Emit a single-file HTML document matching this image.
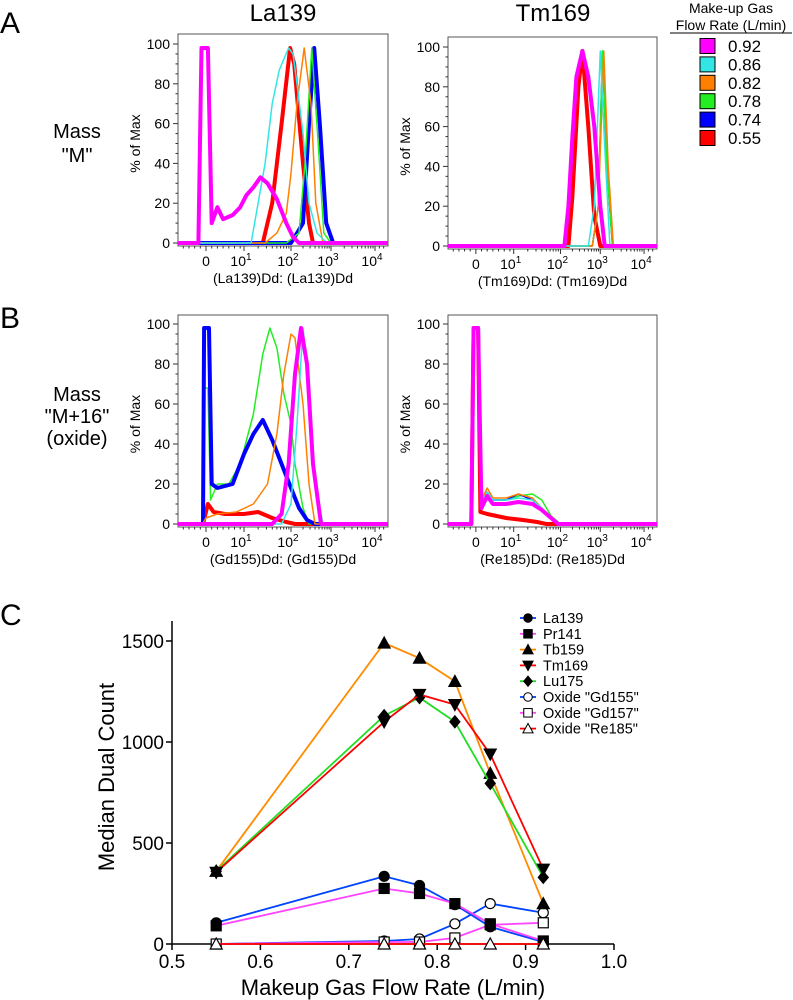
<!DOCTYPE html>
<html><head><meta charset="utf-8"><style>
html,body{margin:0;padding:0;background:#fff;}
svg{display:block;font-family:"Liberation Sans",Arial,sans-serif;}
</style></head><body>
<svg id="fig" width="793" height="1000" viewBox="0 0 793 1000" xmlns="http://www.w3.org/2000/svg">
<text x="0" y="33" font-size="30">A</text>
<text x="0" y="328" font-size="30">B</text>
<text x="0" y="625" font-size="30">C</text>
<text x="77" y="138" font-size="20" text-anchor="middle">Mass</text>
<text x="77" y="162" font-size="20" text-anchor="middle">"M"</text>
<text x="77" y="401" font-size="20" text-anchor="middle">Mass</text>
<text x="77" y="423" font-size="20" text-anchor="middle">"M+16"</text>
<text x="77" y="445" font-size="20" text-anchor="middle">(oxide)</text>
<text x="283" y="21" font-size="24" text-anchor="middle">La139</text>
<text x="553" y="21" font-size="24" text-anchor="middle">Tm169</text>
<g id="flowLegend">
<text x="731" y="13" font-size="14" text-anchor="middle">Make-up Gas</text>
<text x="731" y="30" font-size="14" text-anchor="middle">Flow Rate (L/min)</text>
<line x1="670" y1="33" x2="792" y2="33" stroke="#000" stroke-width="1"/>
</g>
<g id="hists"></g>
<g id="chartC"></g>
</svg>
<script>
const NS="http://www.w3.org/2000/svg";
function mk(tag,attrs,parent){const e=document.createElementNS(NS,tag);for(const k in attrs)e.setAttribute(k,attrs[k]);parent.appendChild(e);return e;}

// ---- flow-rate legend data ----
const flowRates=["0.92","0.86","0.82","0.78","0.74","0.55"];
const flowColors=["#ff00ff","#33e6e6","#ff8000","#22ee22","#0000ff","#ff0000"];
const flowLeg=document.getElementById('flowLegend');
flowRates.forEach((r,i)=>{
  const cy=46+i*18.4;
  const sw=mk('rect',{x:700,y:cy-7.5,width:15,height:15,fill:flowColors[i],stroke:'#000','stroke-width':1},flowLeg);
  
  
  const t=mk('text',{x:728,y:cy+6,'font-size':17},flowLeg);t.textContent=r;
  
  
});

// ---- histogram data (x in decade units: 0 -> "0", 1 -> 10^1, ...; y in % of max) ----
const aLa_092=[[-0.2,0],[-0.12,98],[0.05,98],[0.15,10],[0.3,18],[0.45,12],[0.7,14],[0.9,18],[1.05,24],[1.2,28],[1.35,33],[1.5,30],[1.7,22],[1.9,10],[2.05,3],[2.2,0]];
const aLa_086=[[1.15,0],[1.3,20],[1.45,40],[1.6,70],[1.75,87],[1.95,98],[2.05,95],[2.15,80],[2.3,55],[2.45,20],[2.65,5],[2.9,0]];
const aLa_082=[[1.45,0],[1.7,5],[1.9,15],[2.0,35],[2.15,70],[2.33,98],[2.5,70],[2.62,20],[2.8,0]];
const aLa_078=[[1.9,0],[2.2,5],[2.35,40],[2.52,98],[2.68,50],[2.82,5],[3.0,0]];
const aLa_074=[[2.0,0],[2.3,10],[2.45,60],[2.58,98],[2.72,60],[2.88,10],[3.05,0]];
const aLa_055=[[1.4,0],[1.6,20],[1.8,60],[1.98,98],[2.08,90],[2.3,40],[2.45,10],[2.55,0]];

const aTm_092=[[2.1,0],[2.2,20],[2.3,55],[2.4,85],[2.55,98],[2.7,85],[2.85,60],[3.0,20],[3.1,0]];
const aTm_086=[[2.7,0],[2.85,20],[3.0,98],[3.1,50],[3.22,0]];
const aTm_082=[[2.8,0],[2.95,20],[3.08,98],[3.18,40],[3.3,0]];
const aTm_078=[[2.8,0],[2.95,20],[3.05,98],[3.15,40],[3.28,0]];
const aTm_074=[[2.8,0],[2.95,20],[3.05,98],[3.15,40],[3.28,0]];
const aTm_055=[[2.2,0],[2.3,25],[2.45,80],[2.55,98],[2.7,60],[2.85,15],[3.0,0]];

const bGd_092=[[1.6,0],[1.8,5],[1.95,30],[2.1,75],[2.25,98],[2.4,80],[2.55,30],[2.75,0]];
const bGd_086=[[1.8,0],[2.0,10],[2.15,50],[2.3,98],[2.45,70],[2.6,20],[2.8,0]];
const bGd_082=[[-0.1,0],[0,3],[0.3,5],[0.8,6],[1.2,10],[1.5,20],[1.7,45],[1.85,75],[2.0,95],[2.1,93],[2.3,60],[2.45,20],[2.6,0]];
const bGd_078=[[-0.1,0],[-0.05,68],[0.05,68],[0.12,12],[0.3,20],[0.6,20],[0.9,30],[1.2,55],[1.4,85],[1.55,98],[1.7,88],[1.85,65],[2.0,50],[2.1,30],[2.3,8],[2.45,0]];
const bGd_074=[[-0.08,0],[-0.05,98],[0.08,98],[0.15,20],[0.3,18],[0.7,20],[1.0,35],[1.2,45],[1.4,52],[1.6,42],[1.8,30],[2.0,18],[2.2,8],[2.4,2],[2.6,0]];
const bGd_055=[[-0.08,0],[0.05,10],[0.2,6],[0.5,5],[1.0,5],[1.3,6],[1.6,3],[1.9,1],[2.1,0]];

const bRe_092=[[-0.12,0],[-0.06,98],[0.06,98],[0.15,8],[0.3,14],[0.45,10],[0.8,10],[1.1,11],[1.4,10],[1.6,7],[1.8,3],[1.95,0]];
const bRe_086=[[-0.12,0],[-0.06,98],[0.06,98],[0.15,10],[0.3,16],[0.45,12],[0.8,12],[1.1,13],[1.4,12],[1.6,8],[1.8,3],[1.95,0]];
const bRe_082=[[-0.12,0],[-0.06,98],[0.06,98],[0.15,12],[0.3,18],[0.45,13],[0.8,13],[1.1,15],[1.4,13],[1.6,8],[1.8,3],[1.95,0]];
const bRe_078=[[-0.12,0],[-0.06,98],[0.06,98],[0.15,10],[0.3,16],[0.45,12],[0.8,12],[1.1,14],[1.4,15],[1.6,12],[1.8,4],[2.0,0]];
const bRe_074=[[-0.12,0],[-0.06,98],[0.06,98],[0.15,10],[0.3,16],[0.45,12],[0.8,12],[1.1,15],[1.4,12],[1.6,7],[1.8,3],[1.95,0]];
const bRe_055=[[-0.12,0],[-0.06,98],[0.06,98],[0.12,6],[0.3,5],[0.8,3],[1.2,2],[1.5,1],[1.7,0]];

const panels=[
 {name:'la139',left:178,right:388,top:34,y0:243,y100:44,ylab:140,xt:'(La139)Dd: (La139)Dd',
  series:[['0.55',aLa_055,'#ff0000',4],['0.74',aLa_074,'#0000ff',4],['0.78',aLa_078,'#22ee22',1.5],['0.82',aLa_082,'#ff8000',1.5],['0.86',aLa_086,'#33e6e6',1.5],['0.92',aLa_092,'#ff00ff',4]]},
 {name:'tm169',left:448,right:657,top:37,y0:246,y100:47,ylab:410,xt:'(Tm169)Dd: (Tm169)Dd',
  series:[['0.55',aTm_055,'#ff0000',4],['0.74',aTm_074,'#0000ff',1.5],['0.78',aTm_078,'#22ee22',1.5],['0.82',aTm_082,'#ff8000',1.5],['0.86',aTm_086,'#33e6e6',1.5],['0.92',aTm_092,'#ff00ff',4]]},
 {name:'gd155',left:178,right:388,top:315,y0:524,y100:324,ylab:140,xt:'(Gd155)Dd: (Gd155)Dd',
  series:[['0.55',bGd_055,'#ff0000',4],['0.78',bGd_078,'#22ee22',1.5],['0.74',bGd_074,'#0000ff',4],['0.82',bGd_082,'#ff8000',1.5],['0.86',bGd_086,'#33e6e6',1.5],['0.92',bGd_092,'#ff00ff',4]]},
 {name:'re185',left:448,right:657,top:315,y0:524,y100:324,ylab:410,xt:'(Re185)Dd: (Re185)Dd',
  series:[['0.78',bRe_078,'#22ee22',1.5],['0.74',bRe_074,'#0000ff',1.5],['0.82',bRe_082,'#ff8000',1.5],['0.86',bRe_086,'#33e6e6',1.5],['0.55',bRe_055,'#ff0000',4],['0.92',bRe_092,'#ff00ff',4]]}
];
const knotsD=[-0.74,0,1,2,3,4,4.3];
const knotsP=[0,28,66,113,153,197,210];
function dOff(d){for(let i=0;i<knotsD.length-1;i++){if(d<=knotsD[i+1]||i===knotsD.length-2){const t=(d-knotsD[i])/(knotsD[i+1]-knotsD[i]);return knotsP[i]+t*(knotsP[i+1]-knotsP[i]);}}}
const hg=document.getElementById('hists');
panels.forEach(p=>{
  const g=mk('g',{},hg);
  
  
  const sx=d=>p.left+dOff(d)*(p.right-p.left)/210;
  const sy=v=>p.y0+(p.y100-p.y0)*v/100;
  // frame
  const fr=mk('rect',{x:p.left,y:p.top,width:p.right-p.left,height:p.y0+3-p.top,fill:'none',stroke:'#555','stroke-width':1},g);
  
  
  // y ticks
  for(let v=0;v<=100;v+=5){const y=sy(v);const maj=v%20===0;mk('line',{x1:p.left-(maj?5:2.5),x2:p.left,y1:y,y2:y,stroke:'#333','stroke-width':1},g);
    if(maj){const t=mk('text',{x:p.left-8,y:y+5,'font-size':14,'text-anchor':'end'},g);t.textContent=v;
      
      }}
  const yl=mk('text',{x:p.ylab,y:(p.y0+p.y100)/2,'font-size':14,'text-anchor':'middle',transform:'rotate(-90 '+p.ylab+' '+((p.y0+p.y100)/2)+')'},g);yl.textContent='% of Max';
  
  
  // x ticks
  const xb=p.y0+3;
  [0,1,2,3,4].forEach(d=>{mk('line',{x1:sx(d),x2:sx(d),y1:xb,y2:xb+5,stroke:'#333'},g);});
  for(let dec=1;dec<4;dec++)for(let k=2;k<10;k++){const d=dec+Math.log10(k);mk('line',{x1:sx(d),x2:sx(d),y1:xb,y2:xb+2.5,stroke:'#333'},g);}
  [-0.6,-0.45,-0.3,-0.15,0.15,0.3,0.45,0.6,0.75,0.9,4.1,4.2].forEach(d=>mk('line',{x1:sx(d),x2:sx(d),y1:xb,y2:xb+2.5,stroke:'#333'},g));
  const tl=['0','10','10','10','10'];const sup=['','1','2','3','4'];
  tl.forEach((s,i)=>{const t=mk('text',{x:sx(i)-(i?3:0),y:p.y0+23,'font-size':14,'text-anchor':'middle'},g);t.textContent=s;
    
    
    if(sup[i]){const u=mk('tspan',{dy:-6,'font-size':10},t);u.textContent=sup[i];}});
  const xt=mk('text',{x:(p.left+p.right)/2,y:p.y0+40,'font-size':14,'text-anchor':'middle'},g);xt.textContent=p.xt;
  
  
  // series
  p.series.forEach(s=>{
    const pts=[[-0.74,0]].concat(s[1]).concat([[4.3,0]]);
    const d=pts.map((q,i)=>(i?'L':'M')+sx(q[0]).toFixed(1)+','+sy(q[1]).toFixed(1)).join('');
    const path=mk('path',{d:d,fill:'none',stroke:s[2],'stroke-width':s[3],'stroke-linejoin':'round'},g);
    
    
  });
});

// ---- Panel C data ----
const flowX=[0.55,0.74,0.78,0.82,0.86,0.92];
const la139=[105,335,290,195,85,10];
const pr141=[90,275,250,200,100,15];
const tb159=[360,1490,1415,1300,845,200];
const tm169=[355,1100,1235,1185,940,370];
const lu175=[360,1130,1220,1100,795,330];
const gd155ox=[0,15,25,100,200,155];
const gd157ox=[0,10,10,30,95,105];
const re185ox=[0,0,0,0,0,0];
const cXTicks=[0.5,0.6,0.7,0.8,0.9,1.0];
const cYTicks=[0,500,1000,1500];
const cg=document.getElementById('chartC');
const cx=v=>172+(v-0.5)*884;
const cy=v=>944-v*(303/1500);
mk('line',{x1:172,x2:172,y1:621,y2:944,stroke:'#000','stroke-width':1.5},cg);
mk('line',{x1:172,x2:614,y1:944,y2:944,stroke:'#000','stroke-width':1.5},cg);
cXTicks.forEach(v=>{mk('line',{x1:cx(v),x2:cx(v),y1:944,y2:950,stroke:'#000','stroke-width':1.5},cg);
  const t=mk('text',{x:cx(v),y:968,'font-size':19,'text-anchor':'middle'},cg);t.textContent=v.toFixed(1);
  
  });
cYTicks.forEach(v=>{mk('line',{x1:166,x2:172,y1:cy(v),y2:cy(v),stroke:'#000','stroke-width':1.5},cg);
  const t=mk('text',{x:164,y:cy(v)+7,'font-size':19,'text-anchor':'end'},cg);t.textContent=v;
  
  });
const cxt=mk('text',{x:393,y:995,'font-size':22,'text-anchor':'middle'},cg);cxt.textContent='Makeup Gas Flow Rate (L/min)';


const cyt=mk('text',{x:114,y:777,'font-size':22,'text-anchor':'middle',transform:'rotate(-90 114 777)'},cg);cyt.textContent='Median Dual Count';



function marker(g,type,x,y,filled){
  const f=filled?'#000':'#fff';const st={stroke:'#000','stroke-width':1.2,fill:f};let e;
  if(type==='circle')e=mk('circle',Object.assign({cx:x,cy:y,r:5},st),g);
  else if(type==='square')e=mk('rect',Object.assign({x:x-5,y:y-5,width:10,height:10},st),g);
  else if(type==='tri')e=mk('polygon',Object.assign({points:`${x},${y-6} ${x-6},${y+5} ${x+6},${y+5}`},st),g);
  else if(type==='tridown')e=mk('polygon',Object.assign({points:`${x},${y+6} ${x-6},${y-5} ${x+6},${y-5}`},st),g);
  else e=mk('polygon',Object.assign({points:`${x},${y-6} ${x+5},${y} ${x},${y+6} ${x-5},${y}`},st),g);
  return e;
}
const cSeries=[
 ['La139',la139,'#0044ff','circle',true],
 ['Pr141',pr141,'#ff44ff','square',true],
 ['Tb159',tb159,'#ff8c00','tri',true],
 ['Tm169',tm169,'#ff0000','tridown',true],
 ['Lu175',lu175,'#22dd22','diamond',true],
 ['Oxide "Gd155"',gd155ox,'#0044ff','circle',false],
 ['Oxide "Gd157"',gd157ox,'#ff44ff','square',false],
 ['Oxide "Re185"',re185ox,'#ff0000','tri',false]
];
const drawOrder=[5,6,0,1,2,4,3,7];
drawOrder.forEach(i=>{
  const s=cSeries[i];
  const g=mk('g',{},cg);
  
  
  const pts=flowX.map((x,j)=>cx(x).toFixed(1)+','+cy(s[1][j]).toFixed(1)).join(' ');
  mk('polyline',{points:pts,fill:'none',stroke:s[2],'stroke-width':1.8},g);
  flowX.forEach((x,j)=>{const m=marker(g,s[3],cx(x),cy(s[1][j]),s[4]);
    
    });
});
// legend
const lg=mk('g',{},cg);


cSeries.forEach((s,i)=>{
  const y=618+i*15.8;
  const e=mk('g',{},lg);
  
  
  mk('line',{x1:520,x2:536,y1:y,y2:y,stroke:s[2],'stroke-width':1.8},e);
  const m=marker(e,s[3],528,y,s[4]);m.setAttribute('transform',`translate(528 ${y}) scale(0.85) translate(-528 ${-y})`);
  const t=mk('text',{x:543,y:y+5,'font-size':14.5},e);t.textContent=s[0];
});
</script>
</body></html>
